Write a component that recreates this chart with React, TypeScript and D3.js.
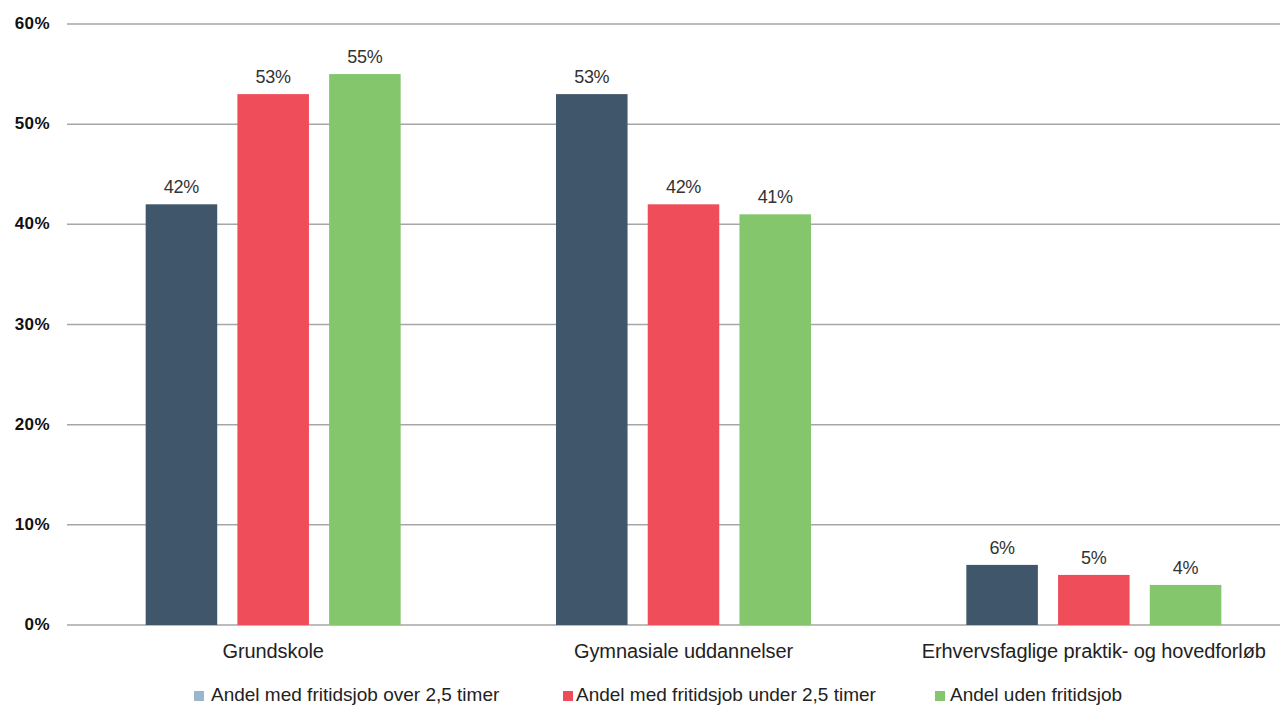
import React from "react";
import * as d3 from "d3";

const categories = ["Grundskole", "Gymnasiale uddannelser", "Erhvervsfaglige praktik- og hovedforløb"];
const seriesNames = [
  "Andel med fritidsjob over 2,5 timer",
  "Andel med fritidsjob under 2,5 timer",
  "Andel uden fritidsjob",
];
const overValues = [42, 53, 6];
const underValues = [53, 42, 5];
const noneValues = [55, 41, 4];
const yTicks = [0, 10, 20, 30, 40, 50, 60];

const barColors = ["#40566B", "#EF4D5A", "#83C66B"];
const legendColors = ["#9BB5CC", "#EF4D5A", "#83C66B"];

export default function App() {
  const W = 1280, H = 706;
  const y = d3.scaleLinear().domain([0, 60]).range([625, 24]);
  const x0 = d3.scaleBand<string>().domain(categories).range([68, 1299]).paddingInner(0).paddingOuter(0);
  const groupW = 255;
  const x1 = d3.scaleBand<string>().domain(seriesNames).range([0, groupW]).paddingInner(0.22);
  const series = [overValues, underValues, noneValues];
  const font = "'Liberation Sans', Arial, sans-serif";
  const legendX = [194, 563, 935];
  const legendTextX = [211, 576, 950];

  return (
    <svg width={W} height={H} style={{ position: "absolute", left: 0, top: 0, background: "#fff" }} fontFamily={font}>
      {yTicks.map((t) => (
        <g key={t}>
          <line x1={67} x2={1280} y1={y(t)} y2={y(t)} stroke="#a6a6a6" strokeWidth={1.5} />
          <text x={50} y={y(t) + 5} textAnchor="end" fontSize={17} fontWeight="bold" fill="#111" letterSpacing={0.4}>{t}%</text>
        </g>
      ))}
      {categories.map((c, ci) => {
        const cx = (x0(c) as number) + x0.bandwidth() / 2;
        const gx = cx - groupW / 2;
        return (
          <g key={c}>
            {series.map((vals, si) => {
              const bx = gx + (x1(seriesNames[si]) as number);
              const bw = x1.bandwidth();
              return (
                <g key={si}>
                  <rect x={bx} y={y(vals[ci])} width={bw} height={y(0) - y(vals[ci])} fill={barColors[si]} />
                  <text x={bx + bw / 2} y={y(vals[ci]) - 11} textAnchor="middle" fontSize={18} fill="#333" letterSpacing={-0.3}>{vals[ci]}%</text>
                </g>
              );
            })}
            <text x={cx} y={658} textAnchor="middle" fontSize={20} fill="#222" letterSpacing={-0.1}>{c}</text>
          </g>
        );
      })}
      {seriesNames.map((s, i) => (
        <g key={s}>
          <rect x={legendX[i]} y={691} width={10} height={10} fill={legendColors[i]} />
          <text x={legendTextX[i]} y={701} fontSize={19} fill="#222">{s}</text>
        </g>
      ))}
    </svg>
  );
}
